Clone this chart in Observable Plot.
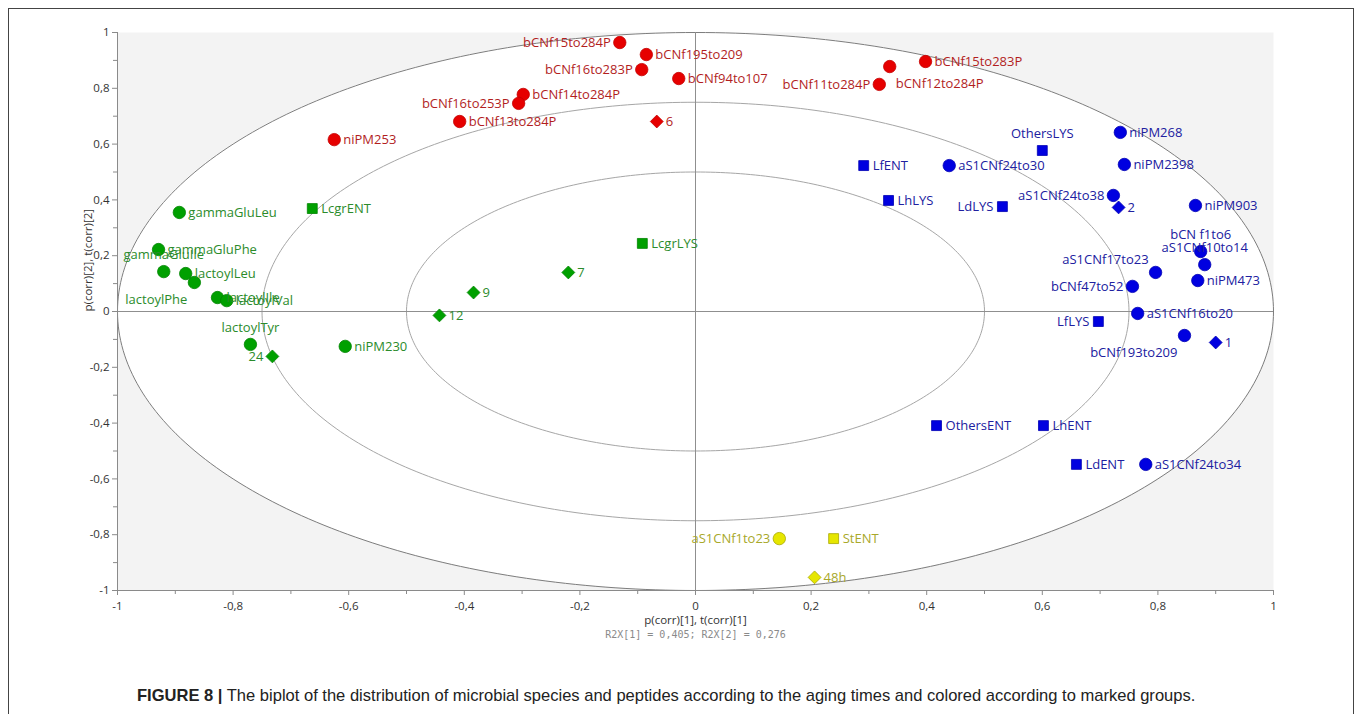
<!DOCTYPE html>
<html>
<head>
<meta charset="utf-8">
<script src="https://cdn.jsdelivr.net/npm/d3@7"></script>
<script src="https://cdn.jsdelivr.net/npm/@observablehq/plot@0.6"></script>
<style>
  body { margin: 0; width: 1358px; height: 714px; overflow: hidden; position: relative; background: #fff; }
  #frame { position: absolute; left: 8px; top: 8px; width: 1346px; height: 730px; border: 1px solid #444; box-sizing: border-box; }
  #chart { position: absolute; left: 0; top: 0; }
  #caption { position: absolute; left: 137px; top: 686px; font-family: "Liberation Sans", Arial, sans-serif; font-size: 16.55px; color: #222; white-space: nowrap; }
  #caption b { font-weight: bold; }
</style>
</head>
<body>
<div id="frame"></div>
<div id="chart"></div>
<div id="caption"><b>FIGURE 8 |</b> The biplot of the distribution of microbial species and peptides according to the aging times and colored according to marked groups.</div>
<script>
// Biplot loadings/scores: p(corr)[1], t(corr)[1] vs p(corr)[2], t(corr)[2]
const labels = [
  // red group
  "bCNf15to284P", "bCNf195to209", "bCNf16to283P", "bCNf94to107", "bCNf14to284P", "bCNf16to253P",
  "bCNf13to284P", "niPM253", "bCNf15to283P", "bCNf12to284P", "bCNf11to284P", "6",
  // blue group
  "OthersLYS", "niPM268", "LfENT", "aS1CNf24to30", "niPM2398", "LhLYS", "LdLYS", "aS1CNf24to38", "2",
  "niPM903", "bCN f1to6", "aS1CNf10to14", "niPM473", "aS1CNf17to23", "bCNf47to52", "aS1CNf16to20",
  "LfLYS", "bCNf193to209", "1", "OthersENT", "LhENT", "LdENT", "aS1CNf24to34",
  // yellow group
  "aS1CNf1to23", "StENT", "48h",
  // green group
  "gammaGluLeu", "gammaGluPhe", "gammaGluIle", "lactoylLeu", "lactoylPhe", "lactoylIle", "lactoylVal",
  "lactoylTyr", "niPM230", "LcgrENT", "LcgrLYS", "7", "9", "12", "24"
];
const pc1 = [
  -0.131, -0.085, -0.093, -0.029, -0.298, -0.306, -0.408, -0.625, 0.398, 0.336, 0.318, -0.067,
  0.600, 0.735, 0.291, 0.439, 0.742, 0.334, 0.531, 0.723, 0.732, 0.865, 0.874, 0.881, 0.869, 0.796,
  0.756, 0.765, 0.697, 0.846, 0.900, 0.417, 0.602, 0.659, 0.779,
  0.145, 0.239, 0.206,
  -0.893, -0.929, -0.920, -0.882, -0.867, -0.827, -0.811, -0.770, -0.606, -0.663, -0.092, -0.220,
  -0.384, -0.443, -0.732
];
const pc2 = [
  0.964, 0.921, 0.867, 0.835, 0.778, 0.746, 0.681, 0.616, 0.896, 0.878, 0.814, 0.681,
  0.577, 0.642, 0.523, 0.523, 0.527, 0.398, 0.376, 0.416, 0.373, 0.380, 0.215, 0.168, 0.111, 0.140,
  0.090, -0.007, -0.036, -0.086, -0.111, -0.409, -0.409, -0.548, -0.548,
  -0.814, -0.814, -0.953,
  0.355, 0.222, 0.143, 0.136, 0.104, 0.050, 0.039, -0.118, -0.125, 0.369, 0.244, 0.140, 0.068,
  -0.014, -0.161
];
const groups = [
  ...Array(12).fill("red"),
  ...Array(23).fill("blue"),
  ...Array(3).fill("yellow"),
  ...Array(15).fill("green")
];
// c = peptide/metabolite, s = microbial count, d = aging time
const kinds = [
  "c","c","c","c","c","c","c","c","c","c","c","d",
  "s","c","s","c","c","s","s","c","d","c","c","c","c","c","c","c","s","c","d","s","s","s","c",
  "c","s","d",
  "c","c","c","c","c","c","c","c","c","s","s","d","d","d","d"
];

const axisTicks = [-1, -0.8, -0.6, -0.4, -0.2, 0, 0.2, 0.4, 0.6, 0.8, 1];
const minorTicks = [-0.9, -0.7, -0.5, -0.3, -0.1, 0.1, 0.3, 0.5, 0.7, 0.9];
const ellipseRadii = [1, 0.75, 0.5];

// Where each label sits relative to its marker
const labelPlacement = {
  "bCNf15to284P": "left", "bCNf16to283P": "left", "bCNf16to253P": "left", "bCNf11to284P": "left",
  "bCNf12to284P": "belowRight",
  "OthersLYS": "above", "bCN f1to6": "above", "aS1CNf10to14": "above",
  "LdLYS": "left", "aS1CNf24to38": "left", "bCNf47to52": "left", "LfLYS": "left",
  "aS1CNf17to23": "aboveLeft", "bCNf193to209": "belowLeft",
  "aS1CNf1to23": "left",
  "gammaGluIle": "above", "lactoylTyr": "above", "lactoylPhe": "belowLeft", "24": "left"
};

const pointColor = { red: "#e60000", blue: "#0000e0", green: "#00a000", yellow: "#e6e600" };
const edgeColor = { red: "#c40000", blue: "#0000b4", green: "#008400", yellow: "#a8a800" };
const textColor = { red: "#b21e1e", blue: "#2020a0", green: "#2b8b2b", yellow: "#a8a82a" };

const rows = labels.map((name, i) => ({
  name, x: pc1[i], y: pc2[i], group: groups[i], kind: kinds[i],
  place: labelPlacement[name] || "right"
}));

// Ellipse outlines traced by angle
const angles = d3.range(0, 361, 1).map(a => a * Math.PI / 180);
const ellipsePts = ellipseRadii.flatMap(r => angles.map(t => ({ r, x: r * Math.cos(t), y: r * Math.sin(t) })));
const halfAngles = d3.range(0, 181, 0.5).map(a => a * Math.PI / 180);

const fmt = d => String(+(+d).toFixed(1)).replace(".", ",");
const labelFont = "'Open Sans', sans-serif";

const dotStyle = {
  x: "x", y: "y",
  fill: d => pointColor[d.group],
  stroke: d => edgeColor[d.group],
  strokeWidth: 0.8
};

const textStyle = {
  x: "x", y: "y", text: "name",
  fill: d => textColor[d.group],
  fontSize: 13, fontFamily: labelFont
};
const sel = p => rows.filter(d => d.place === p);

const chart = Plot.plot({
  width: 1358,
  height: 650,
  marginLeft: 117,
  marginRight: 85,
  marginTop: 32,
  marginBottom: 60,
  x: { domain: [-1, 1] },
  y: { domain: [-1, 1] },
  color: { type: "identity" },
  style: { fontFamily: labelFont, background: "transparent" },
  marks: [
    Plot.frame({ fill: "#f3f3f3", stroke: null }),
    Plot.areaY(halfAngles, {
      x: t => Math.cos(t), y1: t => -Math.sin(t), y2: t => Math.sin(t), fill: "white"
    }),
    Plot.line(ellipsePts, {
      x: "x", y: "y", z: "r",
      stroke: d => d.r === 1 ? "#7d7d7d" : "#a6a6a6", strokeWidth: 1
    }),
    Plot.ruleX([0], { y1: -1, y2: 1, stroke: "#8f8f8f" }),
    Plot.ruleY([0], { x1: -1, x2: 1, stroke: "#8f8f8f" }),
    Plot.ruleX([-1], { y1: -1, y2: 1, stroke: "#8a8a8a" }),
    Plot.ruleY([-1], { x1: -1, x2: 1, stroke: "#8a8a8a" }),
    Plot.axisX(minorTicks, { tickSize: 4, tickFormat: () => "", stroke: "#8a8a8a", label: null }),
    Plot.axisY(minorTicks, { tickSize: 4, tickFormat: () => "", stroke: "#8a8a8a", label: null }),
    Plot.axisX(axisTicks, {
      tickSize: 5, tickPadding: 6, tickFormat: fmt, stroke: "#8a8a8a",
      fill: "#333", fontSize: 11.5, label: null
    }),
    Plot.axisY(axisTicks, {
      tickSize: 5, tickPadding: 3, tickFormat: fmt, stroke: "#8a8a8a",
      fill: "#333", fontSize: 11.5, label: null
    }),
    Plot.text(["p(corr)[1], t(corr)[1]"], {
      frameAnchor: "bottom", dy: 33, fill: "#333", fontSize: 11.5
    }),
    Plot.text(["R2X[1] = 0,405; R2X[2] = 0,276"], {
      frameAnchor: "bottom", dy: 47, fill: "#8a8a8a", fontSize: 10,
      fontFamily: "'DejaVu Sans Mono', monospace"
    }),
    Plot.text(["p(corr)[2], t(corr)[2]"], {
      frameAnchor: "left", dx: -29, rotate: -90, fill: "#333", fontSize: 11.5
    }),
    // markers by kind
    Plot.dot(rows.filter(d => d.kind === "c"), { ...dotStyle, symbol: "circle", r: 6.2 }),
    Plot.dot(rows.filter(d => d.kind === "s"), { ...dotStyle, symbol: "square", r: 5.6 }),
    Plot.dot(rows.filter(d => d.kind === "d"), { ...dotStyle, symbol: "diamond2", r: 5.8 }),
    // labels by placement
    Plot.text(sel("right"), { ...textStyle, textAnchor: "start", dx: 9 }),
    Plot.text(sel("left"), { ...textStyle, textAnchor: "end", dx: -9 }),
    Plot.text(sel("above"), { ...textStyle, textAnchor: "middle", dy: -17 }),
    Plot.text(sel("belowRight"), { ...textStyle, textAnchor: "start", dx: 6, dy: 17 }),
    Plot.text(sel("aboveLeft"), { ...textStyle, textAnchor: "end", dx: -7, dy: -13 }),
    Plot.text(sel("belowLeft"), { ...textStyle, textAnchor: "end", dx: -7, dy: 17 })
  ]
});

document.getElementById("chart").appendChild(chart);
</script>
</body>
</html>
